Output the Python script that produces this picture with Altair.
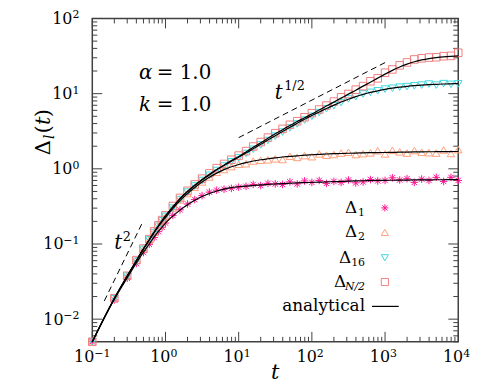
import altair as alt
import pandas as pd

# ---------------- data ----------------
T = [0.1, 0.2, 0.3, 0.4, 0.5, 0.6, 0.7, 0.8, 0.9,
     1.0, 1.26, 1.58, 2.0, 2.51, 3.16, 3.98, 5.01, 6.31, 7.94,
     10.0, 12.6, 15.8, 20.0, 25.1, 31.6, 39.8, 50.1, 63.1, 79.4,
     100, 126, 158, 200, 251, 316, 398, 501, 631, 794,
     1000, 1259, 1585, 1995, 2512, 3162, 3981, 5012, 6310, 7943, 10000]

# analytical curves
L1 = [0.0050, 0.0184, 0.0355, 0.056, 0.078, 0.100, 0.124, 0.147, 0.168,
      0.19, 0.235, 0.282, 0.332, 0.381, 0.428, 0.470, 0.507, 0.538, 0.563,
      0.578, 0.59, 0.60, 0.61, 0.62, 0.628, 0.636, 0.643, 0.65, 0.655,
      0.66, 0.665, 0.67, 0.675, 0.68, 0.685, 0.69, 0.694, 0.697, 0.70,
      0.703, 0.705, 0.707, 0.709, 0.711, 0.713, 0.714, 0.715, 0.716, 0.717, 0.718]
L2 = [0.0050, 0.0188, 0.0374, 0.060, 0.086, 0.113, 0.142, 0.171, 0.199,
      0.225, 0.296, 0.378, 0.467, 0.564, 0.667, 0.773, 0.877, 0.975, 1.064,
      1.143, 1.21, 1.27, 1.32, 1.36, 1.40, 1.435, 1.466, 1.49, 1.52,
      1.54, 1.56, 1.575, 1.59, 1.60, 1.61, 1.62, 1.63, 1.64, 1.645,
      1.65, 1.657, 1.664, 1.67, 1.676, 1.681, 1.686, 1.69, 1.694, 1.697, 1.70]
L16 = [0.0050, 0.0188, 0.0375, 0.060, 0.086, 0.114, 0.144, 0.174, 0.205,
       0.236, 0.31, 0.40, 0.50, 0.60, 0.71, 0.83, 0.97, 1.11, 1.26,
       1.43, 1.62, 1.85, 2.12, 2.42, 2.75, 3.14, 3.57, 4.05, 4.56,
       5.12, 5.71, 6.35, 7.03, 7.73, 8.43, 9.12, 9.77, 10.38, 10.9,
       11.4, 11.83, 12.19, 12.5, 12.76, 12.97, 13.15, 13.3, 13.43, 13.52, 13.6]
LH = [0.0050, 0.0188, 0.0375, 0.060, 0.086, 0.114, 0.144, 0.174, 0.205,
      0.236, 0.312, 0.402, 0.50, 0.605, 0.72, 0.845, 0.98, 1.125, 1.285,
      1.46, 1.68, 1.93, 2.22, 2.55, 2.92, 3.32, 3.78, 4.25, 4.78,
      5.35, 6.05, 6.83, 7.72, 8.72, 9.86, 11.1, 12.6, 14.2, 16.1,
      18.2, 20.4, 22.6, 24.7, 26.6, 28.1, 29.3, 30.2, 30.9, 31.4, 31.8]

# simulation points
P1 = [0.0050, 0.0180, 0.0350, 0.055, 0.077, 0.099, 0.122, 0.146, 0.167,
      0.19, 0.24, 0.285, 0.34, 0.39, 0.44, 0.49, 0.52, 0.535, 0.55,
      0.57, 0.585, 0.62, 0.60, 0.64, 0.63, 0.62, 0.67, 0.63, 0.69,
      0.66, 0.70, 0.64, 0.68, 0.66, 0.71, 0.65, 0.67, 0.72, 0.69,
      0.70, 0.76, 0.71, 0.74, 0.66, 0.73, 0.70, 0.77, 0.68, 0.77, 0.70]
P2 = [0.0050, 0.0189, 0.0376, 0.061, 0.087, 0.114, 0.143, 0.172, 0.200,
      0.228, 0.30, 0.385, 0.47, 0.57, 0.67, 0.78, 0.90, 0.98, 1.07,
      1.15, 1.17, 1.27, 1.30, 1.32, 1.36, 1.33, 1.47, 1.42, 1.50,
      1.45, 1.58, 1.52, 1.55, 1.62, 1.66, 1.55, 1.59, 1.63, 1.74,
      1.58, 1.76, 1.68, 1.62, 1.75, 1.66, 1.64, 1.62, 1.78, 1.60, 1.80]
P16 = [0.0050, 0.0187, 0.0372, 0.059, 0.085, 0.113, 0.142, 0.172, 0.203,
       0.233, 0.30, 0.39, 0.49, 0.59, 0.70, 0.82, 0.95, 1.09, 1.24,
       1.40, 1.60, 1.82, 2.08, 2.38, 2.72, 3.08, 3.50, 3.95, 4.45,
       5.0, 5.6, 6.3, 6.9, 7.6, 8.5, 9.1, 9.9, 10.4, 10.9,
       11.5, 11.8, 12.2, 12.4, 12.7, 13.0, 13.4, 13.0, 13.6, 13.3, 13.5]
PH = [0.0050, 0.0190, 0.0378, 0.061, 0.087, 0.116, 0.147, 0.177, 0.208,
      0.240, 0.32, 0.41, 0.51, 0.62, 0.74, 0.87, 1.02, 1.16, 1.32,
      1.50, 1.72, 1.98, 2.27, 2.60, 2.98, 3.40, 3.85, 4.30, 4.85,
      5.50, 6.15, 6.95, 7.85, 8.95, 9.9, 11.3, 12.6, 14.6, 16.0,
      19.0, 21.0, 23.8, 26.0, 28.5, 29.5, 30.2, 30.5, 31.5, 31.8, 35.0]

SERIES = ["D1", "D2", "D16", "DH"]
COLORS = ["#ff1493", "#ffa07a", "#3fd8df", "#f08080"]
ASTERISK = "M-1,0L1,0M0,-1L0,1M-0.72,-0.72L0.72,0.72M-0.72,0.72L0.72,-0.72"
SHAPES = [ASTERISK, "triangle-up", "triangle-down", "square"]

# guide lines
T2_T = [0.146, 0.49]
T2_Y = [0.0175, 0.197]
TH_T = [10, 1000]
TH_Y = [2.6, 25.9]

# ticks
X_MAJOR = [0.1, 1, 10, 100, 1000, 10000]
X_MINOR = [m * 10.0 ** e for e in range(-1, 4) for m in range(2, 10)]
Y_MAJOR = [0.01, 0.1, 1, 10, 100]
Y_MINOR = [m * 10.0 ** e for e in range(-3, 2) for m in range(2, 10) if m * 10.0 ** e >= 0.005]
X_LAB_2 = ([0.1], ["\u22121"])
X_LAB_1 = ([1, 10, 100, 1000, 10000], ["0", "1", "2", "3", "4"])
Y_LAB_2 = ([0.01, 0.1], ["\u22122", "\u22121"])
Y_LAB_1 = ([1, 10, 100], ["0", "1", "2"])

# ---------------- styling ----------------
W, H = 369, 326
F = "DejaVu Serif"
TC = "#404040"
xs = alt.Scale(type="log", domain=[0.1, 10000], nice=False)
ys = alt.Scale(type="log", domain=[0.005, 100], nice=False)
X = lambda f: alt.X(f, scale=xs, axis=None)
Y = lambda f: alt.Y(f, scale=ys, axis=None)

layers = []

# ticks (inward, on all four sides)
for vals, ln in [(X_MAJOR, 10), (X_MINOR, 5)]:
    df = pd.DataFrame({"v": vals})
    layers.append(alt.Chart(df).mark_rule(color=TC, strokeWidth=1).encode(
        x=X("v:Q"), y=alt.value(H), y2=alt.value(H - ln)))
    layers.append(alt.Chart(df).mark_rule(color=TC, strokeWidth=1).encode(
        x=X("v:Q"), y=alt.value(0), y2=alt.value(ln)))
for vals, ln in [(Y_MAJOR, 10), (Y_MINOR, 5)]:
    df = pd.DataFrame({"v": vals})
    layers.append(alt.Chart(df).mark_rule(color=TC, strokeWidth=1).encode(
        y=Y("v:Q"), x=alt.value(0), x2=alt.value(ln)))
    layers.append(alt.Chart(df).mark_rule(color=TC, strokeWidth=1).encode(
        y=Y("v:Q"), x=alt.value(W), x2=alt.value(W - ln)))

# tick labels
for (vals, exps), dx in [(X_LAB_2, 2), (X_LAB_1, 5)]:
    df = pd.DataFrame({"v": vals, "e": exps})
    layers.append(alt.Chart(df).mark_text(align="right", baseline="alphabetic", dx=dx,
                                          font=F, fontSize=16, color="black", text="10").encode(
        x=X("v:Q"), y=alt.value(H + 20)))
    layers.append(alt.Chart(df).mark_text(align="left", baseline="alphabetic", dx=dx,
                                          font=F, fontSize=11, color="black").encode(
        x=X("v:Q"), y=alt.value(H + 15), text="e:N"))
for (vals, exps), wexp in [(Y_LAB_2, 16), (Y_LAB_1, 7)]:
    df = pd.DataFrame({"v": vals, "e": exps})
    layers.append(alt.Chart(df).mark_text(align="right", baseline="alphabetic", dy=5.5,
                                          font=F, fontSize=16, color="black", text="10").encode(
        y=Y("v:Q"), x=alt.value(-13 - wexp)))
    layers.append(alt.Chart(df).mark_text(align="right", baseline="alphabetic", dy=0,
                                          font=F, fontSize=11, color="black").encode(
        y=Y("v:Q"), x=alt.value(-13), text="e:N"))

# points
pts = pd.concat([pd.DataFrame({"t": T, "v": v, "s": s})
                 for v, s in zip([P1, P2, P16, PH], SERIES)], ignore_index=True)
layers.append(alt.Chart(pts).mark_point(filled=False, size=58, strokeWidth=1, opacity=1).encode(
    x=X("t:Q"), y=Y("v:Q"),
    color=alt.Color("s:N", scale=alt.Scale(domain=SERIES, range=COLORS), legend=None),
    shape=alt.Shape("s:N", scale=alt.Scale(domain=SERIES, range=SHAPES), legend=None)))

# analytical lines
lns = pd.concat([pd.DataFrame({"t": T, "v": v, "s": s})
                 for v, s in zip([L1, L2, L16, LH], SERIES)], ignore_index=True)
layers.append(alt.Chart(lns).mark_line(color="black", strokeWidth=1.2, interpolate="monotone").encode(
    x=X("t:Q"), y=Y("v:Q"), detail="s:N"))

# dashed guides
for tt, yy in [(T2_T, T2_Y), (TH_T, TH_Y)]:
    layers.append(alt.Chart(pd.DataFrame({"t": tt, "v": yy})).mark_line(
        color="black", strokeWidth=1, strokeDash=[6, 4]).encode(x=X("t:Q"), y=Y("v:Q")))

# annotations in data coordinates
def dtext(xv, yv, txt, size, italic=False, dx=0, dy=0):
    return alt.Chart(pd.DataFrame({"x": [xv], "y": [yv]})).mark_text(
        align="left", baseline="alphabetic", font=F, fontSize=size, dx=dx, dy=dy,
        fontStyle="italic" if italic else "normal", color="black", text=txt).encode(
        x=X("x:Q"), y=Y("y:Q"))

layers += [
    dtext(0.2, 0.086, "t", 20, True),
    dtext(0.2, 0.086, "2", 13, False, dx=8.5, dy=-8),
    dtext(31.1, 8.5, "t", 20, True),
    dtext(31.1, 8.5, "1/2", 13, False, dx=9.5, dy=-9),
    dtext(0.434, 15.7, "\u03b1", 20, True),
    dtext(0.434, 15.7, "=  1.0", 20, False, dx=18),
    dtext(0.434, 5.9, "k", 20, True),
    dtext(0.434, 5.9, "=  1.0", 20, False, dx=18),
]

# pixel-positioned texts (titles & legend)
def ptext(px, py, txt, size, align="left", italic=False, angle=0, baseline="alphabetic"):
    kw = dict(align=align, baseline=baseline, font=F, fontSize=size,
              fontStyle="italic" if italic else "normal", color="black", text=txt)
    if angle:
        kw["angle"] = angle
    return alt.Chart(pd.DataFrame({"a": [0]})).mark_text(**kw).encode(
        x=alt.value(px), y=alt.value(py))

# x title
layers.append(ptext(W / 2, H + 38, "t", 21, "center", True))
# y title (rotated) : Delta_l(t)
layers += [
    ptext(-43, 138, "\u0394", 21, "left", False, 270),
    ptext(-39, 121.5, "l", 14, "left", True, 270),
    ptext(-43, 116, "(", 21, "left", False, 270),
    ptext(-43, 107.5, "t", 21, "left", True, 270),
    ptext(-43, 99.5, ")", 21, "left", False, 270),
]

# legend
LEG_Y = [191, 215.7, 241.3, 265.7]
LEG_SUB = ["1", "2", "16", "N/2"]
LEG_DX = [267, 267, 261, 256]
for i in range(4):
    yy = LEG_Y[i]
    layers.append(ptext(LEG_DX[i], yy + 5, "\u0394", 17, "right"))
    layers.append(ptext(275, yy + 8, LEG_SUB[i], 11, "right", LEG_SUB[i] == "N/2"))
    layers.append(alt.Chart(pd.DataFrame({"a": [0]})).mark_point(
        filled=False, size=52, strokeWidth=1, opacity=1, shape=SHAPES[i], color=COLORS[i]).encode(
        x=alt.value(295), y=alt.value(yy)))
layers.append(ptext(275, 290.3, "analytical", 17, "right", baseline="middle"))
layers.append(alt.Chart(pd.DataFrame({"a": [0]})).mark_rule(color="black", strokeWidth=1.2).encode(
    x=alt.value(282), x2=alt.value(309), y=alt.value(290.3)))

chart = alt.layer(*layers).properties(
    width=W, height=H,
    autosize=alt.AutoSizeParams(type="none"),
    padding={"left": 85, "top": 9, "right": 30, "bottom": 42},
).configure_view(stroke=TC, strokeWidth=1.5)

chart.save("out.html", embed_options={"renderer": "svg", "actions": False})
